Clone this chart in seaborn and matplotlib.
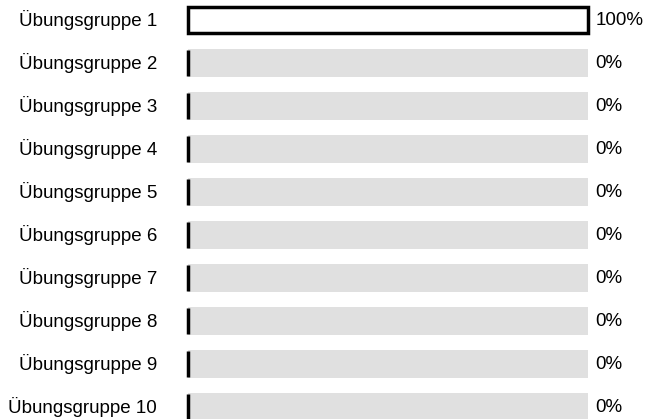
import matplotlib
matplotlib.use("Agg")
import matplotlib.pyplot as plt
import pandas as pd
import seaborn as sns

groups = [f"Übungsgruppe {i}" for i in range(1, 11)]
shares = [100, 0, 0, 0, 0, 0, 0, 0, 0, 0]
pct_labels = [f"{v}%" for v in shares]

df = pd.DataFrame({"group": groups, "share": shares, "full": [100] * len(groups)})

sns.set_style("white")
plt.rcParams["font.family"] = ["Liberation Sans", "DejaVu Sans"]
plt.rcParams["text.color"] = "black"
plt.rcParams["ytick.color"] = "black"

fig = plt.figure(figsize=(6.48, 4.19), dpi=100)
ax = fig.add_axes([188 / 648, 0, (588 - 188) / 648, 1])

# grey track behind every row
sns.barplot(data=df, x="full", y="group", orient="h", color="#e0e0e0",
            width=0.65, linewidth=0, ax=ax)
# actual share, white with black outline
sns.barplot(data=df, x="share", y="group", orient="h", color="white",
            edgecolor="black", linewidth=2.5, width=0.62, ax=ax)
for p in ax.patches:
    p.set_clip_on(False)

ax.set_xlim(0, 100)
ax.set_ylim(9 + 12 / 43, -20 / 43)
ax.set_xlabel("")
ax.set_ylabel("")
ax.set_xticks([])
ax.tick_params(axis="y", length=0, pad=22.3, labelsize=13.5, labelcolor="black")
for t in ax.get_yticklabels():
    t.set_verticalalignment("center")
for s in ax.spines.values():
    s.set_visible(False)

for i, lab in enumerate(pct_labels):
    ax.text(101.8, i, lab, va="center", ha="left", fontsize=13.5, color="black")

fig.savefig("out.png", dpi=100, facecolor="white")
